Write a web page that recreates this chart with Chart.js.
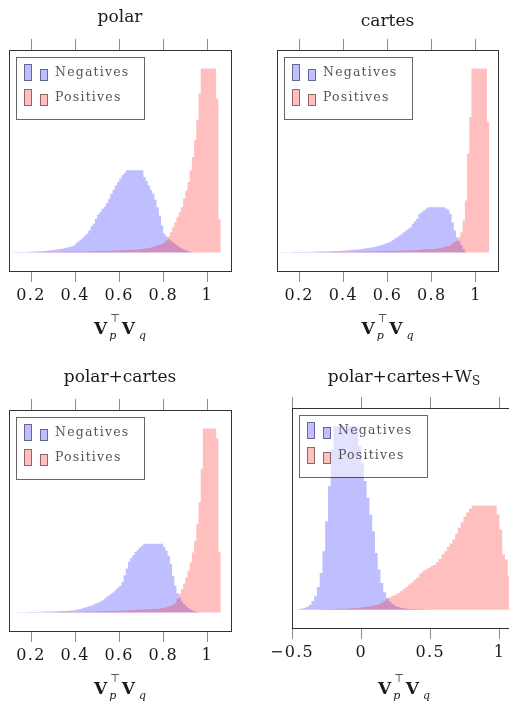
<!DOCTYPE html>
<html>
<head>
<meta charset="utf-8">
<script src="https://cdn.jsdelivr.net/npm/chart.js@4.4.1/dist/chart.umd.min.js"></script>
<style>
html,body{margin:0;padding:0;background:#fff;}
#wrap{position:relative;width:509px;height:705px;overflow:hidden;background:#fff;}
canvas{position:absolute;}
</style>
</head>
<body>
<div id="wrap">
<canvas id="c1"></canvas>
<canvas id="c2"></canvas>
<canvas id="c3"></canvas>
<canvas id="c4"></canvas>
</div>
<script>
// ---------------- data (histogram bin heights) ----------------
const seriesNames = ['Negatives', 'Positives'];
const panelTitles = ['polar', 'cartes', 'polar+cartes', 'polar+cartes+W'];
const titleSubscripts = ['', '', '', 'S'];

const ticksA = [0.2, 0.4, 0.6, 0.8, 1];
const tickLabelsA = ['0.2', '0.4', '0.6', '0.8', '1'];
const ticksB = [-0.5, 0, 0.5, 1];
const tickLabelsB = ['\u22120.5', '0', '0.5', '1'];

// polar
const polarBinWidth = 0.01;
const polarNegStart = 0.10;
const polarNeg = [0.5,0.5,1,1,1,1.5,1.5,1.5,2,2,
  2.5,3,3,3.5,4,4,5,5,6,6,
  7,8,9,10,11,12,14,15,17,19,
  21,28,33,38,44,51,56,66,79,86,
  101,114,121,131,138,148,161,176,188,201,
  211,221,231,238,246,246,246,246,246,246,
  246,246,226,214,201,188,176,158,136,111,
  81,56,48,41,36,31,26,21,16,12,
  9,6,4,2,1,0.5];
const polarPosStart = 0.20;
const polarPos = [0.5,0.5,0.5,1,1,1,1,1,1.5,1.5,
  1.5,1.5,2,2,2,2,2,2.5,2.5,2.5,
  3,3,3,3,3,3.5,3.5,3.5,4,4,
  4,4.5,4.5,5,5,5,5.5,5.5,6,6,
  6,6.5,7,7,7.5,8,8,8.5,9,9.5,
  10,11,12,13,14,15,17,19,22,24,
  26,30,36,48,61,76,91,106,121,136,
  161,186,211,246,286,336,396,476,551,551,
  551,551,551,551,551,460,100];

// cartes
const cartesBinWidth = 0.01;
const cartesNegStart = 0.10;
const cartesNeg = [0.5,0.5,0.5,1,1,1,1,1,1.5,1.5,
  1.5,1.5,2,2,2,2,2.5,2.5,2.5,3,
  3,3,3.5,3.5,4,4,4.5,4.5,5,5,
  5.5,6,6.5,7,7.5,8,9,9.5,10,11,
  12,13,14,15,16,17,19,21,23,25,
  28,30,33,37,42,46,51,56,61,66,
  71,76,86,94,101,116,121,126,131,136,
  136,136,136,136,136,136,136,132,128,116,
  90,66,46,35,22,10,2];
const cartesPosStart = 0.25;
const cartesPos = [0.5,0.5,0.5,0.5,0.5,
  1,1,1,1,1,1,1,1.5,1.5,1.5,
  1.5,2,2,2,2,2.5,2.5,2.5,3,3,
  3,3,3.5,3.5,3.5,4,4,4,4.5,4.5,
  4.5,5,5,5,5.5,5.5,5.5,6,6,6,
  6,6.5,7,7.5,8,8.5,9,9.5,10,10.5,
  11,11,11.5,12,13,14,16,18,20,21,
  28,32,36,46,61,96,156,296,406,551,
  551,551,551,551,551,551,391];

// polar+cartes
const pcBinWidth = 0.01;
const pcNegStart = 0.10;
const pcNeg = [0.5,0.5,0.5,0.5,1,1,1,1,1,1.5,
  1.5,1.5,2,2,2,2.5,2.5,3,3,3,
  3.5,3.5,4,4,4.5,5,5,5.5,6,6.5,
  7,8,10,11,13,15,17,19,21,24,
  27,30,33,37,42,47,52,56,61,68,
  74,80,91,112,132,152,163,172,181,188,
  195,201,206,206,206,206,206,206,206,206,
  206,196,186,170,146,110,80,58,45,34,
  26,20,14,9,6,3,1.5,0.5];
const pcPosStart = 0.22;
const pcPos = [0.5,0.5,0.5,0.5,0.5,0.5,0.5,0.5,
  1,1,1,1,1,1.5,1.5,1.5,1.5,2,
  2,2,2,2.5,2.5,2.5,3,3,3,3.5,
  3.5,3.5,4,4,4,4.5,4.5,5,5,5,
  5.5,5.5,6,6,6.5,7,7,7.5,8,8.5,
  9,9,9.5,10,10,10.5,11,11,11.5,12,
  13,14,16,18,20,24,28,41,56,70,
  86,106,126,150,180,215,265,330,430,551,
  551,551,551,551,551,521,181];

// polar+cartes+W_S
const pcwBinWidth = 0.02;
const pcwNegStart = -0.46;
const pcwNeg = [1,1.5,3,5,8,14,25,40,68,110,
  175,265,370,480,549,549,549,549,549,549,
  549,549,549,490,440,385,335,285,235,170,
  120,80,52,36,24,16,11,8,6,4,
  3,2,2,1.5,1,1,0.5,0.5];
const pcwPosStart = -0.30;
const pcwPos = [0.5,0.5,1,1,1.5,1.5,2,2,2.5,3,
  3,3.5,4,4,5,6,7,8,9,10,
  12,14,16,20,26,32,37,42,45,50,
  55,62,68,75,82,90,96,108,115,120,
  125,130,134,142,152,165,175,188,198,210,
  228,245,262,278,292,302,312,312,312,312,
  312,312,312,312,312,285,240,165,150,100,40];

// ---------------- styling ----------------
const BLUE = 'rgba(0,0,255,0.25)';
const RED = 'rgba(255,0,0,0.25)';
const TXT = '#1a1a1a';
const LABEL_BAND = 50;

function steps(start, width, vals) {
  const pts = vals.map((v, i) => ({x: start + i * width, y: v}));
  pts.push({x: start + vals.length * width, y: 0});
  return pts;
}

const boxLegend = {
  id: 'boxLegend',
  afterDatasetsDraw(chart) {
    const ctx = chart.ctx, a = chart.chartArea;
    const x0 = Math.round(a.left) + 7, y0 = Math.round(a.top) + 7, w = 128, h = 62;
    ctx.save();
    ctx.fillStyle = 'rgba(255,255,255,0.55)';
    ctx.fillRect(x0, y0, w, h);
    ctx.strokeStyle = 'rgba(0,0,0,0.6)';
    ctx.lineWidth = 1;
    ctx.strokeRect(x0 + 0.5, y0 + 0.5, w, h);
    chart.data.datasets.forEach((ds, i) => {
      const bottom = y0 + 24 + i * 25;
      ctx.fillStyle = ds.backgroundColor;
      ctx.strokeStyle = 'rgba(0,0,0,0.45)';
      ctx.fillRect(x0 + 8, bottom - 17, 8, 17);
      ctx.strokeRect(x0 + 8.5, bottom - 16.5, 7, 16);
      ctx.fillRect(x0 + 24, bottom - 12, 8, 12);
      ctx.strokeRect(x0 + 24.5, bottom - 11.5, 7, 11);
      ctx.fillStyle = '#555';
      ctx.font = '12.5px "DejaVu Serif"';
      ctx.letterSpacing = '1.2px';
      ctx.textBaseline = 'alphabetic';
      ctx.textAlign = 'left';
      ctx.fillText(ds.label, x0 + 39, bottom - 5);
      ctx.letterSpacing = '0px';
    });
    ctx.restore();
  }
};

const panelText = {
  id: 'panelText',
  beforeDraw(chart) { chart.ctx.letterSpacing = '1.3px'; },
  afterDraw(chart, args, o) {
    const ctx = chart.ctx, a = chart.chartArea;
    ctx.letterSpacing = '0px';
    const cx = (a.left + a.right) / 2;
    ctx.save();
    ctx.fillStyle = TXT;
    ctx.textBaseline = 'alphabetic';
    ctx.textAlign = 'left';
    // title
    const mainFont = '17px "DejaVu Serif"', subFont = '12px "DejaVu Serif"';
    const runs = [{text: o.title, font: mainFont, dy: 0}];
    if (o.sub) runs.push({text: o.sub, font: subFont, dy: 3});
    let tw = 0, desc = 0;
    runs.forEach(r => {
      ctx.font = r.font;
      const m = ctx.measureText(r.text);
      r.w = m.width;
      desc = Math.max(desc, m.actualBoundingBoxDescent + r.dy);
      tw += r.w;
    });
    const base = o.titleBottom - desc;
    let x = cx - tw / 2;
    runs.forEach(r => { ctx.font = r.font; ctx.fillText(r.text, x, base + r.dy); x += r.w; });
    // axis label  V_p^T V_q
    const vFont = 'bold 17px "DejaVu Serif"';
    const sFont = 'italic 11px "DejaVu Serif"';
    const tFont = '11px "DejaVu Sans"';
    ctx.font = vFont; const wV = ctx.measureText('V').width;
    ctx.font = sFont; const wp = ctx.measureText('p').width, wq = ctx.measureText('q').width;
    ctx.font = tFont; const wT = ctx.measureText('\u22A4').width;
    const stackW = Math.max(wp, wT) + 1;
    const total = wV + 2 + stackW + 2 + wV + 4 + wq;
    let lx = cx - total / 2;
    const lb = o.labelBase;
    ctx.font = vFont; ctx.fillText('V', lx, lb); lx += wV + 2;
    ctx.font = tFont; ctx.fillText('\u22A4', lx + 1, lb - 12);
    ctx.font = sFont; ctx.fillText('p', lx, lb + 5); lx += stackW + 2;
    ctx.font = vFont; ctx.fillText('V', lx, lb); lx += wV + 4;
    ctx.font = sFont; ctx.fillText('q', lx, lb + 5);
    ctx.restore();
  }
};

function makePanel(p) {
  const cv = document.getElementById(p.id);
  cv.width = p.w; cv.height = p.h;
  cv.style.left = p.left + 'px'; cv.style.top = p.top + 'px';
  cv.style.width = p.w + 'px'; cv.style.height = p.h + 'px';
  const peak = Math.max(...p.neg, ...p.pos);
  const xCommon = (pos, showLabels) => ({
    type: 'linear', position: pos, min: p.xmin, max: p.xmax,
    afterFit: s => { s.height = showLabels ? LABEL_BAND : 0; },
    afterBuildTicks: s => { s.ticks = p.ticks.map(v => ({value: v})); },
    ticks: {
      display: showLabels, autoSkip: false, maxRotation: 0, minRotation: 0,
      padding: 4, color: TXT,
      font: {family: '"DejaVu Serif"', size: 16},
      callback: (v, i) => p.tickLabels[i]
    },
    grid: {drawOnChartArea: false, drawTicks: true, tickLength: 11, color: '#8c8c8c', lineWidth: 1},
    border: {display: true, color: '#333', width: 1, z: 1}
  });
  const yCommon = pos => ({
    type: 'linear', position: pos, min: -0.1 * peak, max: 1.1 * peak,
    afterFit: s => { s.width = 0; },
    ticks: {display: false},
    grid: {drawOnChartArea: false, drawTicks: false},
    border: {display: true, color: '#333', width: 1, z: 1}
  });
  new Chart(cv, {
    type: 'line',
    data: {
      datasets: [
        {label: seriesNames[0], data: steps(p.negStart, p.bw, p.neg), backgroundColor: BLUE,
         borderColor: 'rgba(0,0,0,0)', borderWidth: 0, fill: 'origin', stepped: 'after',
         pointRadius: 0, order: 1, xAxisID: 'x', yAxisID: 'y'},
        {label: seriesNames[1], data: steps(p.posStart, p.bw, p.pos), backgroundColor: RED,
         borderColor: 'rgba(0,0,0,0)', borderWidth: 0, fill: 'origin', stepped: 'after',
         pointRadius: 0, order: 0, xAxisID: 'x', yAxisID: 'y'}
      ]
    },
    options: {
      responsive: false, animation: false, events: [], parsing: false, normalized: true,
      layout: {autoPadding: false, padding: {left: p.pl, top: p.pt, right: p.pr, bottom: p.pb - LABEL_BAND}},
      plugins: {
        legend: {display: false}, tooltip: {enabled: false}, title: {display: false},
        panelText: {title: p.title, sub: p.sub, titleBottom: 26, labelBase: 333.5}
      },
      scales: {x: xCommon('bottom', true), x2: xCommon('top', false), y: yCommon('left'), y2: yCommon('right')}
    },
    plugins: [boxLegend, panelText]
  });
}

makePanel({id: 'c1', left: 0, top: 0, w: 250, h: 345, pl: 9, pt: 50, pr: 19, pb: 74,
  xmin: 0.1, xmax: 1.1075, ticks: ticksA, tickLabels: tickLabelsA,
  title: panelTitles[0], sub: titleSubscripts[0], bw: polarBinWidth,
  negStart: polarNegStart, neg: polarNeg, posStart: polarPosStart, pos: polarPos});
makePanel({id: 'c2', left: 255, top: 0, w: 254, h: 345, pl: 22, pt: 50, pr: 11, pb: 74,
  xmin: 0.1, xmax: 1.1, ticks: ticksA, tickLabels: tickLabelsA,
  title: panelTitles[1], sub: titleSubscripts[1], bw: cartesBinWidth,
  negStart: cartesNegStart, neg: cartesNeg, posStart: cartesPosStart, pos: cartesPos});
makePanel({id: 'c3', left: 0, top: 360, w: 250, h: 345, pl: 9, pt: 50, pr: 19, pb: 74,
  xmin: 0.1, xmax: 1.1075, ticks: ticksA, tickLabels: tickLabelsA,
  title: panelTitles[2], sub: titleSubscripts[2], bw: pcBinWidth,
  negStart: pcNegStart, neg: pcNeg, posStart: pcPosStart, pos: pcPos});
makePanel({id: 'c4', left: 255, top: 360, w: 290, h: 345, pl: 37, pt: 48, pr: 29, pb: 77,
  xmin: -0.5, xmax: 1.12, ticks: ticksB, tickLabels: tickLabelsB,
  title: panelTitles[3], sub: titleSubscripts[3], bw: pcwBinWidth,
  negStart: pcwNegStart, neg: pcwNeg, posStart: pcwPosStart, pos: pcwPos});
</script>
</body>
</html>
